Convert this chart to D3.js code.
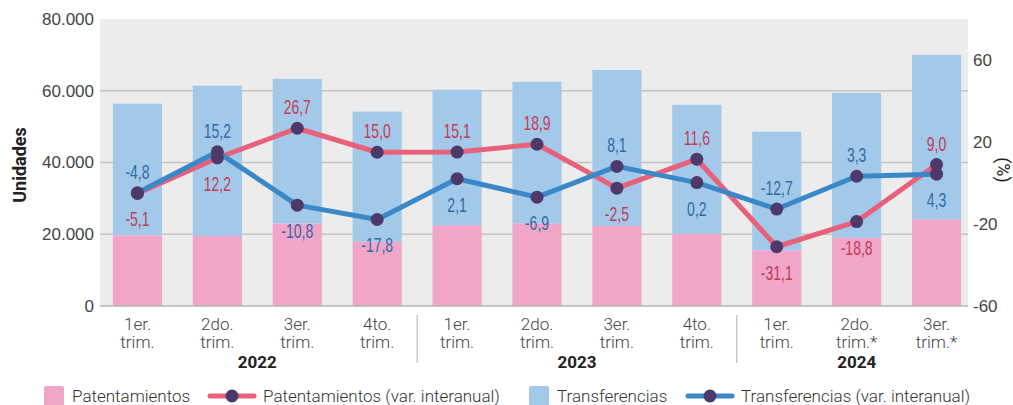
<!DOCTYPE html>
<html>
<head>
<meta charset="utf-8">
<script src="https://cdn.jsdelivr.net/npm/d3@7"></script>
<style>
  body { margin: 0; background: #fff; }
  svg { display: block; font-family: Roboto, "Liberation Sans", sans-serif; }
  .tick-label { font-size: 17px; font-weight: 300; fill: #444; }
  .val { font-family: "Liberation Sans", sans-serif; font-size: 20px; }
</style>
</head>
<body>
<div id="chart"></div>
<script>
// Quarters and years
const quarters = ["1er.|trim.", "2do.|trim.", "3er.|trim.", "4to.|trim.",
                  "1er.|trim.", "2do.|trim.", "3er.|trim.", "4to.|trim.",
                  "1er.|trim.", "2do.|trim.*", "3er.|trim.*"];
const years = [
  { year: "2022", from: 0, to: 3 },
  { year: "2023", from: 4, to: 7 },
  { year: "2024", from: 8, to: 10 }
];

// Units (stacked: patentamientos at bottom, transferencias on top)
const patentamientos = [19700, 19500, 23000, 17900, 22500, 23050, 22300, 20100, 15550, 19000, 24150];
const transferencias = [36700, 41900, 40300, 36300, 37800, 39450, 43500, 36000, 33050, 40400, 45850];

// Year-on-year variation (%)
const patVar = [-5.1, 12.2, 26.7, 15.0, 15.1, 18.9, -2.5, 11.6, -31.1, -18.8, 9.0];
const traVar = [-4.8, 15.2, -10.8, -17.8, 2.1, -6.9, 8.1, 0.2, -12.7, 3.3, 4.3];
// label side for each point: 1 = above, -1 = below
const patSide = [-1, -1, 1, 1, 1, 1, -1, 1, -1, -1, 1];
const traSide = [1, 1, -1, -1, -1, -1, 1, -1, 1, 1, -1];

const leftTicks = [0, 20000, 40000, 60000, 80000];
const rightTicks = [-60, -20, 20, 60];

const colPat = "#f1a5c9", colTra = "#a3c9ea";
const linePat = "#e8607a", lineTra = "#3b88c9";
const txtPat = "#c23c53", txtTra = "#2f6ba6";
const dotCol = "#4e3a6a";

const W = 1013, H = 405;
const plot = { left: 100, right: 968, top: 19, bottom: 306 };

const svg = d3.select("#chart").append("svg")
  .attr("width", W).attr("height", H);

const x = d3.scaleBand()
  .domain(d3.range(quarters.length))
  .range([97.5, 976.5])
  .paddingInner(0.385)
  .paddingOuter(0.1925);

const y = d3.scaleLinear().domain([0, 80000]).range([plot.bottom, plot.top]);
const y2 = d3.scaleLinear().domain([-60, 80]).range([plot.bottom, plot.top]);

// background
svg.append("rect")
  .attr("x", plot.left).attr("y", plot.top)
  .attr("width", plot.right - plot.left).attr("height", plot.bottom - plot.top)
  .attr("fill", "#ececec");

// gridlines
svg.append("g").selectAll("line")
  .data(leftTicks.filter(d => d > 0 && d < 80000))
  .enter().append("line")
  .attr("x1", plot.left).attr("x2", plot.right)
  .attr("y1", d => y(d)).attr("y2", d => y(d))
  .attr("stroke", "#c4c4c4").attr("stroke-width", 1.5);

// stacked bars
const rows = quarters.map((q, i) => ({ i: i, pat: patentamientos[i], tra: transferencias[i] }));
const stack = d3.stack().keys(["pat", "tra"])(rows);
const barColor = { pat: colPat, tra: colTra };

svg.append("g").selectAll("g")
  .data(stack)
  .enter().append("g")
  .attr("fill", d => barColor[d.key])
  .selectAll("rect")
  .data(d => d)
  .enter().append("rect")
  .attr("x", d => x(d.data.i))
  .attr("width", x.bandwidth())
  .attr("y", d => y(d[1]))
  .attr("height", d => y(d[0]) - y(d[1]));

// baseline
svg.append("line")
  .attr("x1", plot.left).attr("x2", plot.right)
  .attr("y1", plot.bottom).attr("y2", plot.bottom)
  .attr("stroke", "#b5b5b5").attr("stroke-width", 1.5);

// left axis
const yAxis = svg.append("g")
  .attr("transform", `translate(${plot.left},0)`)
  .call(d3.axisLeft(y).tickValues(leftTicks).tickSize(0).tickPadding(6)
    .tickFormat(d => d3.format(",")(d).replace(/,/g, ".")));
yAxis.select(".domain").remove();
yAxis.selectAll("text").attr("class", "tick-label").attr("font-family", null).attr("font-size", null);

// right axis
const y2Axis = svg.append("g")
  .attr("transform", `translate(${plot.right},0)`)
  .call(d3.axisRight(y2).tickValues(rightTicks).tickSize(0).tickPadding(5));
y2Axis.select(".domain").remove();
y2Axis.selectAll("text").attr("class", "tick-label").attr("font-family", null).attr("font-size", null)
  .text(d => d < 0 ? "-" + Math.abs(d) : d);

// axis titles
svg.append("text")
  .attr("transform", "translate(26,165) rotate(-90)")
  .attr("text-anchor", "middle")
  .attr("font-size", 18).attr("font-weight", 700).attr("fill", "#222")
  .text("Unidades");
svg.append("text")
  .attr("transform", "translate(997,170) rotate(90)")
  .attr("text-anchor", "middle")
  .attr("font-size", 18).attr("fill", "#222")
  .text("(%)");

// x labels
const xl = svg.append("g").selectAll("text")
  .data(quarters)
  .enter().append("text")
  .attr("class", "tick-label")
  .attr("text-anchor", "middle")
  .attr("x", (d, i) => x(i) + x.bandwidth() / 2);
xl.append("tspan").attr("x", (d, i) => x(i) + x.bandwidth() / 2).attr("y", 330).text(d => d.split("|")[0]);
xl.append("tspan").attr("x", (d, i) => x(i) + x.bandwidth() / 2).attr("y", 348).text(d => d.split("|")[1]);

// year labels
svg.append("g").selectAll("text")
  .data(years)
  .enter().append("text")
  .attr("x", d => (x(d.from) + x(d.to) + x.bandwidth()) / 2)
  .attr("y", 368)
  .attr("text-anchor", "middle")
  .attr("font-size", 17).attr("font-weight", 700).attr("fill", "#222")
  .text(d => d.year);

// year separators
svg.append("g").selectAll("line")
  .data(years.slice(1))
  .enter().append("line")
  .attr("x1", d => x(d.from) - x.step() * x.paddingInner() / 2)
  .attr("x2", d => x(d.from) - x.step() * x.paddingInner() / 2)
  .attr("y1", 315).attr("y2", 363)
  .attr("stroke", "#b0b0b0").attr("stroke-width", 1);

// lines
const cx = i => x(i) + x.bandwidth() / 2;
const line = d3.line().x((d, i) => cx(i)).y(d => y2(d));

function drawSeries(vals, lineColor) {
  svg.append("path")
    .datum(vals)
    .attr("d", line)
    .attr("fill", "none")
    .attr("stroke", lineColor)
    .attr("stroke-width", 5)
    .attr("stroke-linejoin", "round");
}
drawSeries(patVar, linePat);
drawSeries(traVar, lineTra);

function drawDots(vals) {
  svg.append("g").selectAll("circle")
    .data(vals)
    .enter().append("circle")
    .attr("cx", (d, i) => cx(i))
    .attr("cy", d => y2(d))
    .attr("r", 6.5)
    .attr("fill", dotCol);
}
drawDots(patVar);
drawDots(traVar);

// condensed value labels (squeezed horizontally)
function drawLabels(vals, sides, color) {
  svg.append("g").selectAll("text")
    .data(vals)
    .enter().append("text")
    .attr("class", "val")
    .attr("transform", (d, i) => `translate(${cx(i)},${y2(d) + (sides[i] > 0 ? -14 : 33)}) scale(0.7,1)`)
    .attr("text-anchor", "middle")
    .attr("fill", color)
    .text(d => d3.format(".1f")(d).replace(".", ",").replace("−", "-"));
}
drawLabels(patVar, patSide, txtPat);
drawLabels(traVar, traSide, txtTra);

// legend
const legend = svg.append("g").attr("transform", "translate(0,396)");
const items = [
  { type: "box", color: colPat, label: "Patentamientos", x: 44 },
  { type: "line", color: linePat, label: "Patentamientos (var. interanual)", x: 210 },
  { type: "box", color: colTra, label: "Transferencias", x: 529 },
  { type: "line", color: lineTra, label: "Transferencias (var. interanual)", x: 688 }
];
items.forEach(it => {
  const g = legend.append("g").attr("transform", `translate(${it.x},0)`);
  let tx;
  if (it.type === "box") {
    g.append("rect").attr("x", 0).attr("y", -10).attr("width", 20).attr("height", 20).attr("rx", 2).attr("fill", it.color);
    tx = 28;
  } else {
    g.append("line").attr("x1", 0).attr("x2", 44).attr("y1", 0).attr("y2", 0)
      .attr("stroke", it.color).attr("stroke-width", 5).attr("stroke-linecap", "round");
    g.append("circle").attr("cx", 22).attr("cy", 0).attr("r", 6.5).attr("fill", dotCol);
    tx = 53;
  }
  g.append("text").attr("x", tx).attr("y", 6)
    .attr("font-size", 17).attr("font-weight", 300).attr("fill", "#333")
    .text(it.label);
});
</script>
</body>
</html>
